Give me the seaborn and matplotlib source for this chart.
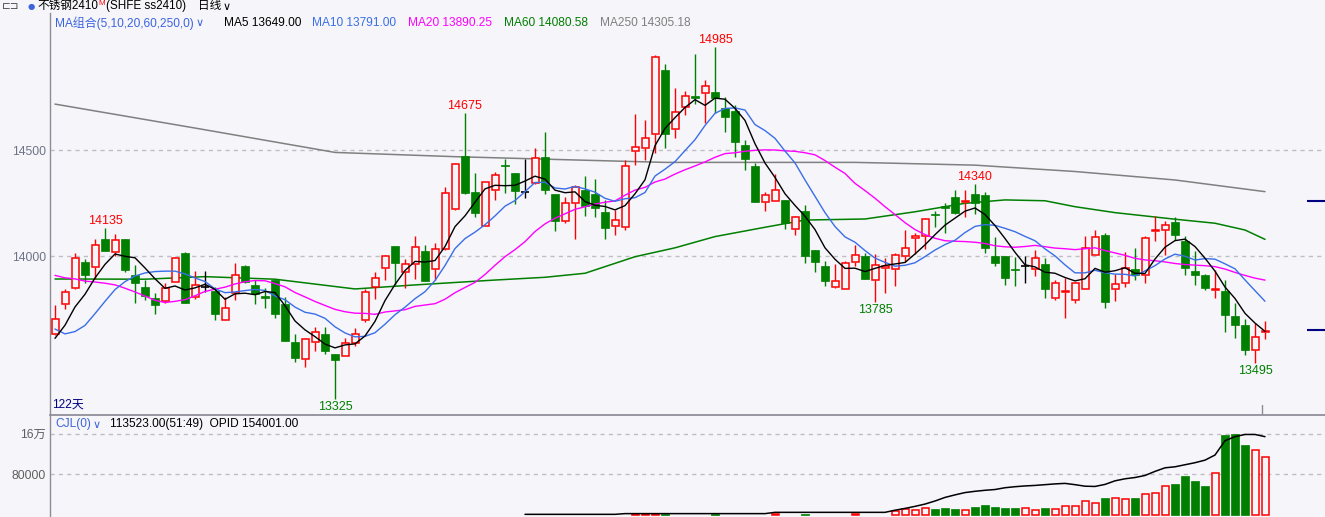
import matplotlib
matplotlib.use("Agg")
import matplotlib.pyplot as plt
import numpy as np
import pandas as pd
import seaborn as sns

# ---------------- data ----------------
opens = [13635, 13775, 13850, 13975, 13950, 14080, 14020, 14080, 13910, 13855,
         13805, 13790, 13880, 14015, 13810, 13855, 13835, 13700, 13825, 13955,
         13865, 13815, 13890, 13775, 13595, 13515, 13595, 13635, 13540, 13530,
         13590, 13700, 13855, 13945, 14050, 13925, 13965, 14025, 13940, 14035,
         14225, 14475, 14305, 14145, 14315, 14430, 14395, 14305, 14345, 14470,
         14295, 14165, 14250, 14315, 14295, 14210, 14145, 14140, 14495, 14510,
         14575, 14880, 14600, 14705, 14755, 14770, 14775, 14700, 14685, 14525,
         14425, 14255, 14260, 14265, 14130, 14215, 14030, 13955, 13855, 13845,
         13975, 14000, 13890, 13945, 13940, 14000, 14085, 14095, 14200, 14235,
         14280, 14255, 14295, 14290, 14000, 14000, 13940, 13955, 13940, 13965,
         13805, 13830, 13795, 13845, 14005, 14100, 13845, 13875, 13940, 13910,
         14120, 14125, 14160, 14070, 13930, 13910, 13840, 13835, 13720, 13675,
         13560, 13645]
highs = [13770, 13845, 14015, 13985, 14080, 14135, 14105, 14080, 13960, 13890,
         13825, 13875, 13995, 14020, 13930, 13930, 13855, 13810, 13970, 13960,
         13890, 13850, 13890, 13810, 13635, 13615, 13665, 13665, 13540, 13615,
         13660, 13845, 13925, 14005, 14050, 13985, 14095, 14055, 14065, 14325,
         14440, 14675, 14395, 14350, 14400, 14460, 14395, 14460, 14510, 14585,
         14295, 14280, 14335, 14380, 14365, 14265, 14220, 14455, 14670, 14645,
         14950, 14905, 14795, 14780, 14955, 14830, 14985, 14750, 14715, 14550,
         14440, 14305, 14390, 14265, 14190, 14240, 14030, 13980, 13965, 13980,
         14055, 14015, 14010, 13990, 14015, 14125, 14110, 14180, 14215, 14250,
         14315, 14315, 14340, 14305, 14090, 14000, 13995, 14000, 14030, 13990,
         13890, 13900, 13880, 14095, 14125, 14110, 13915, 14020, 14040, 14095,
         14190, 14165, 14185, 14095, 14025, 13915, 13935, 13890, 13780, 13705,
         13685, 13695]
lows = [13630, 13750, 13845, 13875, 13895, 14025, 14000, 13925, 13780, 13795,
        13730, 13780, 13880, 13780, 13800, 13830, 13700, 13700, 13795, 13875,
        13775, 13755, 13710, 13600, 13500, 13480, 13555, 13540, 13325, 13530,
        13575, 13690, 13800, 13890, 13865, 13850, 13895, 13885, 13890, 14030,
        14220, 14295, 14185, 14145, 14265, 14300, 14245, 14275, 14340, 14295,
        14120, 14155, 14080, 14190, 14185, 14080, 14100, 14125, 14430, 14455,
        14485, 14510, 14560, 14665, 14720, 14630, 14675, 14585, 14470, 14405,
        14255, 14215, 14260, 14130, 14100, 13970, 13925, 13860, 13850, 13845,
        13955, 13895, 13785, 13825, 13860, 13975, 14010, 14035, 14140, 14110,
        14200, 14185, 14200, 14015, 13955, 13865, 13860, 13875, 13905, 13805,
        13795, 13710, 13780, 13845, 14005, 13755, 13790, 13855, 13890, 13875,
        14070, 14005, 14075, 13910, 13865, 13840, 13805, 13645, 13615, 13535,
        13495, 13610]
closes = [13705, 13830, 13990, 13910, 14055, 14025, 14075, 13935, 13875, 13815,
          13770, 13850, 13990, 13780, 13865, 13855, 13730, 13755, 13910, 13880,
          13820, 13805, 13730, 13600, 13520, 13610, 13645, 13555, 13510, 13590,
          13635, 13830, 13900, 14000, 13970, 13965, 14045, 13885, 14035, 14300,
          14435, 14300, 14205, 14350, 14385, 14425, 14310, 14305, 14465, 14315,
          14165, 14250, 14325, 14235, 14230, 14135, 14170, 14425, 14515, 14560,
          14940, 14575, 14680, 14755, 14745, 14805, 14745, 14655, 14540, 14460,
          14255, 14290, 14315, 14155, 14185, 14000, 13975, 13885, 13885, 13970,
          14005, 13895, 13960, 13955, 14005, 14040, 14095, 14175, 14195, 14230,
          14205, 14260, 14250, 14040, 13970, 13900, 13935, 13955, 13990, 13845,
          13875, 13835, 13875, 14040, 14090, 13785, 13870, 13945, 13910, 14085,
          14125, 14150, 14100, 13945, 13910, 13850, 13845, 13725, 13675, 13560,
          13620, 13650]
# closes of the 19 sessions before the visible window (needed for MA5/10/20)
prior_closes = [14060, 14090, 14120, 14140, 14140, 14230, 14250, 14230, 14200, 14170,
                14060, 13880, 13620, 13500, 13445, 13520, 13560, 13610, 13670]

ma60_idx = [0, 9, 15, 22, 30, 36, 44, 49, 53, 58, 62, 66, 71, 75, 81, 86, 91, 95, 99, 102, 106, 112, 116, 119, 121]
ma60_val = [13893, 13892, 13904, 13892, 13846, 13865, 13888, 13901, 13920, 13998, 14040, 14093, 14137, 14171,
            14176, 14210, 14250, 14266, 14262, 14234, 14206, 14175, 14156, 14124, 14080]
ma250_idx = [0, 14, 28, 40, 50, 61, 80, 83, 92, 102, 112, 121]
ma250_val = [14718, 14605, 14490, 14470, 14457, 14443, 14443, 14440, 14430, 14400, 14360, 14305]

volume = ([0] * 58 + [2500, 2500, 3000, 2000] + [0] * 4 + [2000] + [0] * 5 + [2000] + [0] * 2 + [2000]
          + [0] * 4 + [2000] + [0] * 3 +
          [8400, 12300, 10300, 13600, 12300, 14200, 12300, 10300, 16200, 20100,
           16200, 14200, 14200, 13600, 10300, 14200, 12300, 17500, 17500, 27900,
           24000, 33700, 33100, 31100, 33700, 40900, 43500, 56500, 61000, 76700,
           66900, 57200, 83800, 156700, 158600, 137100, 128700, 113523])
oi_start = 47
open_interest = ([1900] * 10 + [3300] * 15 + [5800] * 12 +
                 [10000, 13500, 17500, 22000, 28000, 35000, 40000, 44500, 47000, 49000,
                  50500, 54000, 56000, 57500, 58500, 60000, 61500, 62500, 60000, 57000,
                  56500, 60500, 67500, 71500, 74000, 78000, 86000, 93000, 95000, 99000,
                  103000, 108000, 118000, 146000, 154000, 158300, 158300, 154001])

high_marks_idx = [5, 41, 66, 92]
high_marks_val = [14135, 14675, 14985, 14340]
low_marks_idx = [28, 82, 120]
low_marks_val = [13325, 13785, 13495]

price_ticks = [14000, 14500]
price_tick_labels = ["14000", "14500"]
vol_ticks = [80000, 160000]
vol_tick_labels = ["80000", "16万"]
right_marks = [14261, 13653]

# ---------------- style ----------------
sns.set_theme(style="white")
FONT = ["Liberation Sans", "Noto Sans CJK SC", "DejaVu Sans"]
plt.rcParams["font.family"] = FONT
plt.rcParams["axes.unicode_minus"] = False

BG = "#F5F5FA"
RED = "#FF0000"
GREEN = "#007F00"
C_MA5, C_MA10, C_MA20, C_MA60, C_MA250 = "#000000", "#3A6EE8", "#FF00FF", "#007F00", "#808080"
GRID = "#BEBEC4"
SPINE = "#8C8C96"

W, H = 1325, 517
fig = plt.figure(figsize=(W / 100, H / 100), dpi=100)
fig.patch.set_facecolor(BG)

ax = fig.add_axes([50 / W, 1 - 415 / H, (W - 50) / W, (415 - 13) / H])
axv = fig.add_axes([50 / W, 0, (W - 50) / W, (517 - 416) / H])
for a in (ax, axv):
    a.set_facecolor(BG)
    for s in a.spines.values():
        s.set_visible(False)
    a.spines["left"].set_visible(True)
    a.spines["left"].set_color(SPINE)
    a.spines["left"].set_linewidth(1)
    a.set_xlim(-0.5, 127.0)
    a.set_xticks([])
    a.grid(False)
ax.spines["bottom"].set_visible(True)
ax.spines["bottom"].set_color(SPINE)
ax.set_ylim(13251.4, 15147.7)
axv.set_ylim(-3317, 194440)

# grid lines
for t in price_ticks:
    ax.axhline(t, color=GRID, lw=1, dashes=(3, 3), zorder=0)
for t in vol_ticks:
    axv.axhline(t, color=GRID, lw=1, dashes=(3, 3), zorder=0)

ax.set_yticks(price_ticks)
ax.set_yticklabels(price_tick_labels)
ax.tick_params(axis="y", length=0, pad=3, labelsize=8.8, labelcolor="#6E7487")
axv.set_yticks(vol_ticks)
axv.set_yticklabels(vol_tick_labels)
axv.tick_params(axis="y", length=0, pad=3, labelsize=8.8, labelcolor="#606060")

# ---------------- candles ----------------
idx = np.arange(len(closes))
BW = 0.8
for i in idx:
    o, h, l, c = opens[i], highs[i], lows[i], closes[i]
    if c > o:
        ax.vlines(i, l, o, color=RED, lw=1, zorder=3)
        ax.vlines(i, c, h, color=RED, lw=1, zorder=3)
        ax.bar(i, c - o, bottom=o, width=BW - 0.1, facecolor=BG, edgecolor=RED, lw=1.1, zorder=4)
    elif c < o:
        ax.vlines(i, l, h, color=GREEN, lw=1, zorder=3)
        ax.bar(i, o - c, bottom=c, width=BW, facecolor=GREEN, edgecolor=GREEN, lw=0.5, zorder=4)
    else:
        ax.vlines(i, l, h, color="black", lw=1, zorder=3)
        ax.hlines(o, i - BW / 2, i + BW / 2, color="black", lw=1.2, zorder=4)

# ---------------- moving averages ----------------
allc = pd.Series(prior_closes + closes, dtype=float)
n0 = len(prior_closes)
ma5 = allc.rolling(5).mean().iloc[n0:].to_numpy()
ma10 = allc.rolling(10).mean().iloc[n0:].to_numpy()
ma20 = allc.rolling(20).mean().iloc[n0:].to_numpy()

sns.lineplot(x=ma250_idx, y=ma250_val, ax=ax, color=C_MA250, lw=1.1, legend=False, zorder=2)
sns.lineplot(x=ma60_idx, y=ma60_val, ax=ax, color=C_MA60, lw=1.1, legend=False, zorder=2)
sns.lineplot(x=idx, y=ma20, ax=ax, color=C_MA20, lw=1.0, legend=False, zorder=5)
sns.lineplot(x=idx, y=ma10, ax=ax, color=C_MA10, lw=1.0, legend=False, zorder=5)
sns.lineplot(x=idx, y=ma5, ax=ax, color=C_MA5, lw=1.0, legend=False, zorder=6)

# high / low labels
for i, v in zip(high_marks_idx, high_marks_val):
    ax.annotate(str(v), (i, v), xytext=(0, 4), textcoords="offset pixels", ha="center",
                va="baseline", color=RED, fontsize=9, zorder=7)
for i, v in zip(low_marks_idx, low_marks_val):
    ax.annotate(str(v), (i, v), xytext=(0, -2), textcoords="offset pixels", ha="center",
                va="top", color=GREEN, fontsize=9, zorder=7)

# right-edge markers and last-bar tick
ax.hlines(right_marks, 125.2, 127.0, color="#000080", lw=1.5, zorder=6)
ax.axvline(120.7, ymin=0, ymax=0.025, color=SPINE, lw=1)

# ---------------- volume ----------------
for i in idx:
    v = volume[i]
    if v <= 0:
        continue
    if closes[i] >= opens[i]:
        axv.bar(i, v, width=BW - 0.1, facecolor=BG, edgecolor=RED, lw=1.1, zorder=3)
    else:
        axv.bar(i, v, width=BW, facecolor=GREEN, edgecolor=GREEN, lw=0.5, zorder=3)
oi_x = np.arange(oi_start, oi_start + len(open_interest))
sns.lineplot(x=oi_x, y=open_interest, ax=axv, color="black", lw=1.1, legend=False, zorder=4)
axv.set_xlabel("")
axv.set_ylabel("")
ax.set_xlabel("")
ax.set_ylabel("")


# ---------------- texts ----------------
def ftext(px, py, s, color, size=8.6, ha="left", va="center", family=None, **kw):
    return fig.text(px / W, 1 - py / H, s, color=color, fontsize=size, ha=ha, va=va,
                    family=family or FONT, **kw)


renderer = fig.canvas.get_renderer()


def right_edge(t):
    return t.get_window_extent(renderer).x1


# header (placed one after another)
ftext(2, 6, "⊏⊐", "#404040", size=7.5, family=["DejaVu Sans"])
ftext(28, 6, "●", "#3C64DC", size=6, family=["DejaVu Sans"])
t = ftext(37, 6, "不锈钢2410", "black", size=8.4)
x = right_edge(t) + 0.5
t = ftext(x, 3.5, "M", RED, size=5.8)
x = right_edge(t) + 1
t = ftext(x, 6, "(SHFE ss2410)", "black", size=8.4)
x = right_edge(t) + 12
t = ftext(x, 6, "日线", "black", size=8.4)
x = right_edge(t) + 1
ftext(x, 6.5, "∨", "black", size=8, family=["DejaVu Sans"])

# main legend
t = ftext(55, 23, "MA组合(5,10,20,60,250,0)", "#3C64DC", size=8.6)
ftext(right_edge(t) + 2, 23.5, "∨", "#3C64DC", size=8, family=["DejaVu Sans"])
ftext(224, 23, "MA5 13649.00", C_MA5, size=8.6)
ftext(312, 23, "MA10 13791.00", C_MA10, size=8.6)
ftext(408, 23, "MA20 13890.25", C_MA20, size=8.6)
ftext(504, 23, "MA60 14080.58", C_MA60, size=8.6)
ftext(600, 23, "MA250 14305.18", C_MA250, size=8.6)

# bottom-left day count
ftext(52, 405, "122天", "#000080", size=8.6)

# volume legend
t = ftext(55, 424, "CJL(0)", "#3C64DC", size=8.6)
ftext(right_edge(t) + 2, 424.5, "∨", "#3C64DC", size=8, family=["DejaVu Sans"])
ftext(110, 424, "113523.00(51:49)  OPID 154001.00", "black", size=8.6)

fig.savefig("out.png", dpi=100, facecolor=BG)
